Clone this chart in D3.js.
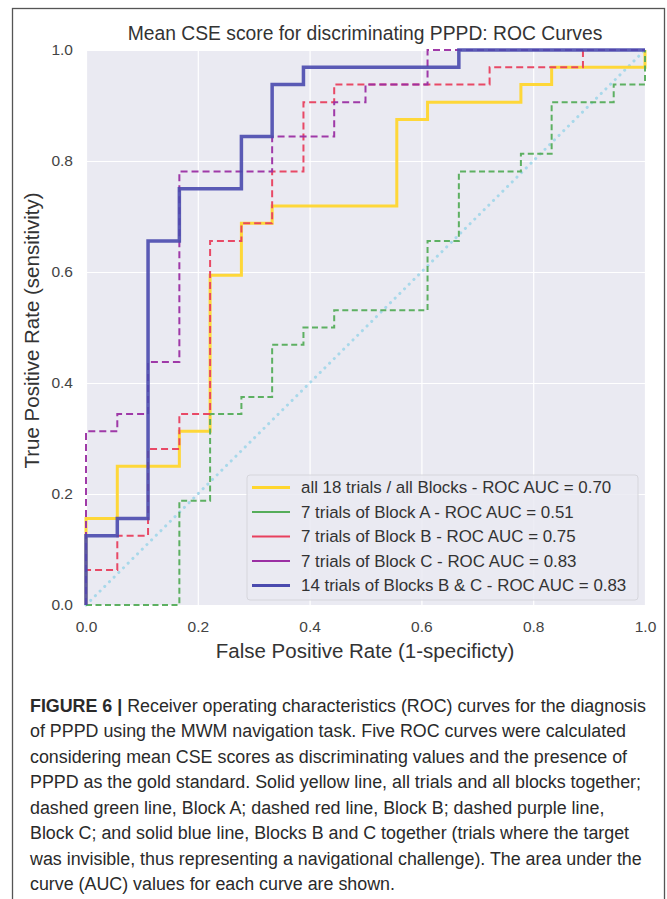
<!DOCTYPE html>
<html><head><meta charset="utf-8">
<script src="https://cdn.jsdelivr.net/npm/d3@7"></script>
<style>
html,body{margin:0;padding:0;background:#fff;}
svg{display:block;}
</style></head>
<body>
<script>
// ---- data ----
const title = "Mean CSE score for discriminating PPPD: ROC Curves";
const xLabel = "False Positive Rate (1-specificty)";
const yLabel = "True Positive Rate (sensitivity)";
const xTicks = [0, 0.2, 0.4, 0.6, 0.8, 1.0];
const yTicks = [0, 0.2, 0.4, 0.6, 0.8, 1.0];

const seriesNames = [
  "all 18 trials / all Blocks - ROC AUC = 0.70",
  "7 trials of Block A - ROC AUC = 0.51",
  "7 trials of Block B - ROC AUC = 0.75",
  "7 trials of Block C - ROC AUC = 0.83",
  "14 trials of Blocks B & C - ROC AUC = 0.83"
];
const seriesColors = ["#FFD62E", "#55AD5A", "#E8405E", "#9B2FA3", "#4A4AAE"];

const fprAll = [0, 0, 0.056, 0.167, 0.222, 0.278, 0.333, 0.556, 0.611, 0.778, 0.833, 1.0];
const tprAll = [0, 0.156, 0.25, 0.313, 0.594, 0.688, 0.719, 0.875, 0.906, 0.938, 0.969, 1.0];

const fprA = [0, 0.167, 0.222, 0.278, 0.333, 0.389, 0.444, 0.611, 0.667, 0.778, 0.833, 0.944, 1.0];
const tprA = [0, 0.188, 0.344, 0.375, 0.469, 0.5, 0.531, 0.656, 0.781, 0.813, 0.906, 0.938, 1.0];

const fprB = [0, 0, 0.056, 0.111, 0.167, 0.222, 0.278, 0.333, 0.389, 0.444, 0.722, 0.889, 1.0];
const tprB = [0, 0.063, 0.125, 0.281, 0.344, 0.656, 0.688, 0.781, 0.906, 0.938, 0.969, 1.0, 1.0];

const fprC = [0, 0, 0.056, 0.111, 0.167, 0.333, 0.444, 0.5, 0.611, 1.0];
const tprC = [0, 0.313, 0.344, 0.438, 0.781, 0.844, 0.906, 0.938, 1.0, 1.0];

const fprBC = [0, 0, 0.056, 0.111, 0.167, 0.278, 0.333, 0.389, 0.667, 1.0];
const tprBC = [0, 0.125, 0.156, 0.656, 0.75, 0.844, 0.938, 0.969, 1.0, 1.0];

const chanceFpr = [0, 1];
const chanceTpr = [0, 1];

const captionLines = [
  "Receiver operating characteristics (ROC) curves for the diagnosis",
  "of PPPD using the MWM navigation task. Five ROC curves were calculated",
  "considering mean CSE scores as discriminating values and the presence of",
  "PPPD as the gold standard. Solid yellow line, all trials and all blocks together;",
  "dashed green line, Block A; dashed red line, Block B; dashed purple line,",
  "Block C; and solid blue line, Blocks B and C together (trials where the target",
  "was invisible, thus representing a navigational challenge). The area under the",
  "curve (AUC) values for each curve are shown."
];

// ---- drawing ----
const W = 667, H = 899;
const svg = d3.select("body").append("svg").attr("width", W).attr("height", H);
const font = "'Liberation Sans', Arial, sans-serif";

// outer border
svg.append("rect").attr("x", 12.5).attr("y", 8.5).attr("width", 652).attr("height", 900)
  .attr("fill", "none").attr("stroke", "#555").attr("stroke-width", 1.3);

const plot = {left: 86, right: 645, top: 50, bottom: 605};
const x = d3.scaleLinear().domain([0, 1]).range([plot.left, plot.right]);
const y = d3.scaleLinear().domain([0, 1]).range([plot.bottom, plot.top]);

svg.append("rect").attr("x", plot.left).attr("y", plot.top)
  .attr("width", plot.right - plot.left).attr("height", plot.bottom - plot.top)
  .attr("fill", "#EAEAF2");

// grid + ticks
const gx = svg.append("g").attr("transform", `translate(0,${plot.bottom})`)
  .call(d3.axisBottom(x).tickValues(xTicks).tickSize(-(plot.bottom - plot.top)).tickFormat(d3.format(".1f")).tickPadding(16));
const gy = svg.append("g").attr("transform", `translate(${plot.left},0)`)
  .call(d3.axisLeft(y).tickValues(yTicks).tickSize(-(plot.right - plot.left)).tickFormat(d3.format(".1f")).tickPadding(13));
[gx, gy].forEach(g => {
  g.select(".domain").remove();
  g.selectAll(".tick line").attr("stroke", "#fff").attr("stroke-width", 1.2);
  g.selectAll(".tick text").attr("fill", "#444").style("font-family", font).style("font-size", "15.5px");
});
gx.selectAll(".tick text").attr("dy", "0.71em");

const lineGen = d3.line().x(d => x(d[0])).y(d => y(d[1])).curve(d3.curveStepAfter);
const zip = (a, b) => a.map((v, i) => [v, b[i]]);

const lines = svg.append("g");

// chance diagonal
lines.append("path").datum(zip(chanceFpr, chanceTpr))
  .attr("d", d3.line().x(d => x(d[0])).y(d => y(d[1])))
  .attr("fill", "none").attr("stroke", "#A8D8EA").attr("stroke-width", 3)
  .attr("stroke-linecap", "round").attr("stroke-dasharray", "0.1,6.5");

const series = [
  {f: fprAll, t: tprAll, w: 3, dash: null},
  {f: fprA, t: tprA, w: 2, dash: "6,3.5"},
  {f: fprB, t: tprB, w: 2, dash: "7,4"},
  {f: fprC, t: tprC, w: 2, dash: "7,4"},
  {f: fprBC, t: tprBC, w: 3.5, dash: null}
];
series.forEach((s, i) => {
  lines.append("path").datum(zip(s.f, s.t))
    .attr("d", lineGen)
    .attr("fill", "none").attr("stroke", seriesColors[i]).attr("stroke-width", s.w)
    .attr("stroke-opacity", i === 4 ? 0.9 : 0.95)
    .attr("stroke-dasharray", s.dash);
});

// title & labels
svg.append("text").attr("x", 365).attr("y", 40).attr("text-anchor", "middle")
  .style("font-family", font).style("font-size", "19.3px").attr("fill", "#333").text(title);
svg.append("text").attr("x", 365).attr("y", 658).attr("text-anchor", "middle")
  .style("font-family", font).style("font-size", "20.5px").attr("fill", "#333").text(xLabel);
svg.append("text").attr("transform", `translate(39,${(plot.top + plot.bottom) / 2 + 3}) rotate(-90)`)
  .attr("text-anchor", "middle")
  .style("font-family", font).style("font-size", "20.5px").attr("fill", "#333").text(yLabel);

// legend
const lg = svg.append("g");
lg.append("rect").attr("x", 247).attr("y", 475).attr("width", 391).attr("height", 125).attr("rx", 3)
  .attr("fill", "#EAEAF2").attr("fill-opacity", 0.85).attr("stroke", "#d6d6dc").attr("stroke-width", 1);
seriesNames.forEach((n, i) => {
  const yy = 487.5 + i * 24.5;
  lg.append("line").attr("x1", 252).attr("x2", 290).attr("y1", yy).attr("y2", yy)
    .attr("stroke", seriesColors[i]).attr("stroke-width", (i === 0 || i === 4) ? 3 : 2);
  lg.append("text").attr("x", 301).attr("y", yy).attr("dy", "0.35em")
    .style("font-family", font).style("font-size", "16.9px").attr("fill", "#333").text(n);
});

// caption (condensed look via horizontal scaling)
const cap = svg.append("g").attr("transform", "translate(30,0) scale(0.94,1)");
captionLines.forEach((l, i) => {
  const t = cap.append("text").attr("x", 0).attr("y", 712 + i * 25.5)
    .style("font-family", font).style("font-size", "19px").attr("fill", "#2a2a2a");
  if (i === 0) {
    t.append("tspan").style("font-weight", "bold").text("FIGURE 6 | ");
  }
  t.append("tspan").text(l);
});
</script>
</body></html>
